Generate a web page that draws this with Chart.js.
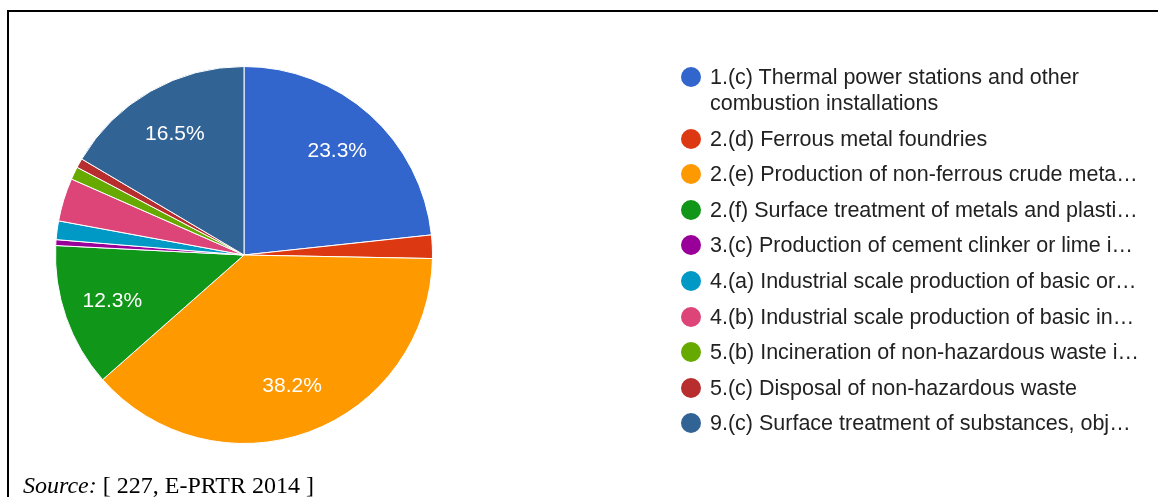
<!DOCTYPE html>
<html>
<head>
<meta charset="utf-8">
<script src="https://cdn.jsdelivr.net/npm/chart.js@4.4.1/dist/chart.umd.min.js"></script>
<style>
  body { margin: 0; background: #fff; }
  #wrap { position: relative; width: 1158px; height: 497px; overflow: hidden; }
  #frame { position: absolute; left: 7px; top: 10px; right: -10px; bottom: -10px;
           border-top: 2px solid #000; border-left: 2px solid #000; }
  #pie { position: absolute; left: 0; top: 0; }
  #legend { position: absolute; left: 681px; top: 64px; width: 470px;
            font-family: Arial, "Liberation Sans", sans-serif; font-size: 21.5px; color: #222; }
  .item { position: relative; padding-left: 29px; line-height: 26px; margin-bottom: 9.6px;
          white-space: nowrap; }
  .item.wrap { white-space: normal; width: 425px; }
  .dot { position: absolute; left: 0; top: 3px; width: 20px; height: 20px; border-radius: 50%; }
  #source { position: absolute; left: 23px; top: 473px; line-height: 24px;
            font-family: "Times New Roman", "Liberation Serif", serif; font-size: 24px; color: #000; }
</style>
</head>
<body>
<div id="wrap">
  <div id="frame"></div>
  <canvas id="pie" width="1158" height="497"></canvas>
  <div id="legend"></div>
  <div id="source"><i>Source:</i> [ 227, E-PRTR 2014 ]</div>
</div>
<script>
// --- Data ---
const labels = [
  '1.(c) Thermal power stations and other combustion installations',
  '2.(d) Ferrous metal foundries',
  '2.(e) Production of non-ferrous crude meta\u2026',
  '2.(f) Surface treatment of metals and plasti\u2026',
  '3.(c) Production of cement clinker or lime i\u2026',
  '4.(a) Industrial scale production of basic or\u2026',
  '4.(b) Industrial scale production of basic in\u2026',
  '5.(b) Incineration of non-hazardous waste i\u2026',
  '5.(c) Disposal of non-hazardous waste',
  '9.(c) Surface treatment of substances, obj\u2026'
];
const shares = [23.3, 2.0, 38.2, 12.3, 0.5, 1.6, 3.7, 1.1, 0.8, 16.5];
const colors = ['#3366cc', '#dc3912', '#ff9900', '#109618', '#990099',
                '#0099c6', '#dd4477', '#66aa00', '#b82e2e', '#316395'];

// percent labels inside the big slices
const sliceLabels = {
  id: 'sliceLabels',
  afterDatasetsDraw(chart) {
    const ctx = chart.ctx;
    const arcs = chart.getDatasetMeta(0).data;
    const total = shares.reduce((a, b) => a + b, 0);
    ctx.save();
    ctx.fillStyle = '#fff';
    ctx.font = '21px Arial, "Liberation Sans", sans-serif';
    ctx.textAlign = 'center';
    ctx.textBaseline = 'middle';
    arcs.forEach((arc, i) => {
      const pct = shares[i] / total * 100;
      if (pct < 5) return;
      const mid = (arc.startAngle + arc.endAngle) / 2;
      const r = arc.outerRadius * 0.74;
      ctx.fillText(pct.toFixed(1) + '%', arc.x + Math.cos(mid) * r, arc.y + Math.sin(mid) * r);
    });
    ctx.restore();
  }
};

const ctx = document.getElementById('pie').getContext('2d');
const chart = new Chart(ctx, {
  type: 'pie',
  data: {
    labels: labels,
    datasets: [{ data: shares, backgroundColor: colors, borderColor: '#fff', borderWidth: 1 }]
  },
  options: {
    responsive: false,
    animation: false,
    layout: { padding: { left: 55, top: 66, right: 1158 - 433, bottom: 497 - 444 } },
    plugins: { legend: { display: false }, tooltip: { enabled: false } }
  },
  plugins: [sliceLabels]
});

// --- Legend ---
const legend = document.getElementById('legend');
labels.forEach((l, i) => {
  const div = document.createElement('div');
  div.className = 'item' + (i === 0 ? ' wrap' : '');
  div.innerHTML = `<span class="dot" style="background:${colors[i]}"></span>${l}`;
  legend.appendChild(div);
});
</script>
</body>
</html>
